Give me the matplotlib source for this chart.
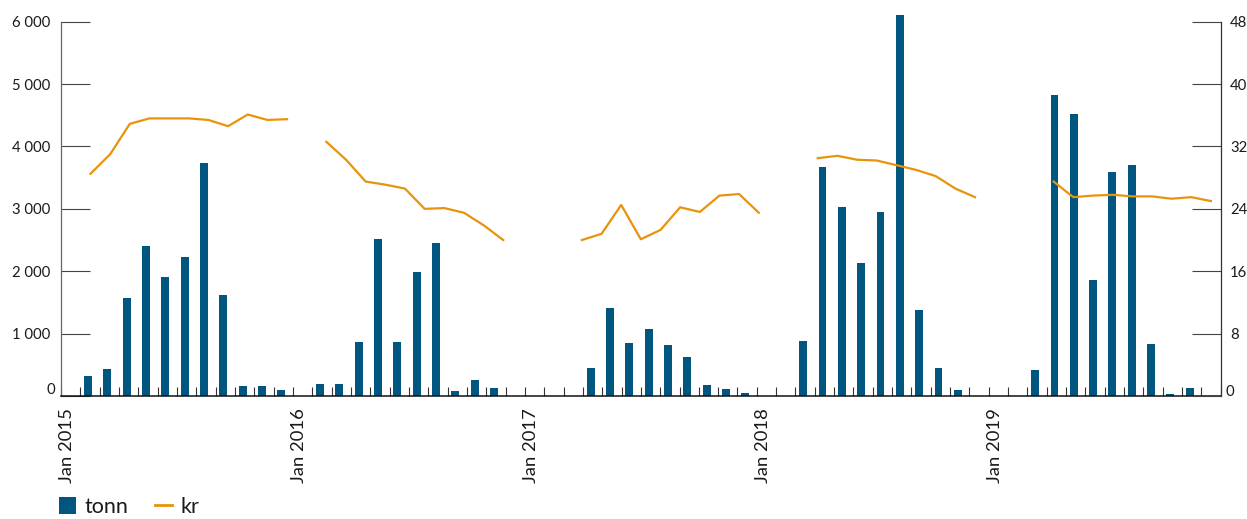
import numpy as np
import matplotlib
matplotlib.use('Agg')
import matplotlib.pyplot as plt
import matplotlib.transforms as mtransforms
from matplotlib.patches import Patch
from matplotlib.lines import Line2D

plt.rcParams['font.family'] = ['Lato', 'DejaVu Sans']

# ---------------- data ----------------
years = [2015, 2016, 2017, 2018, 2019]

# monthly volume (tonn), Jan..Dec of each year
tonn_2015 = [0, 320, 430, 1570, 2400, 1910, 2230, 3735, 1620, 160, 160, 100]
tonn_2016 = [0, 190, 190, 860, 2515, 860, 1985, 2450, 75, 250, 125, 0]
tonn_2017 = [0, 0, 0, 450, 1410, 850, 1075, 815, 625, 175, 110, 50]
tonn_2018 = [0, 0, 880, 3670, 3030, 2130, 2950, 6105, 1380, 450, 95, 0]
tonn_2019 = [0, 0, 415, 4825, 4520, 1860, 3590, 3700, 835, 30, 130, 0]

# price (kr) series: 59 points, None = no value
kr_2015 = [None, 28.5, 31.0, 34.9, 35.6, 35.6, 35.6, 35.4, 34.6, 36.1, 35.4, 35.5]
kr_2016 = [None, 32.6, 30.3, 27.5, 27.1, 26.6, 24.0, 24.1, 23.5, 21.9, 20.0, None]
kr_2017 = [None, None, 20.0, 20.8, 24.5, 20.1, 21.3, 24.2, 23.6, 25.7, 25.9, 23.5]
kr_2018 = [None, None, 30.5, 30.8, 30.3, 30.2, 29.6, 29.0, 28.2, 26.6, 25.5, None]
kr_2019 = [None, None, 27.5, 25.5, 25.7, 25.8, 25.6, 25.6, 25.3, 25.5, 25.0]

left_ticks = [0, 1000, 2000, 3000, 4000, 5000, 6000]
right_ticks = [0, 8, 16, 24, 32, 40, 48]
series_names = ['tonn', 'kr']

tonn = np.array(tonn_2015 + tonn_2016 + tonn_2017 + tonn_2018 + tonn_2019, dtype=float)
kr = np.array([np.nan if v is None else v
               for v in kr_2015 + kr_2016 + kr_2017 + kr_2018 + kr_2019], dtype=float)

BLUE = '#00567F'
ORANGE = '#E8930C'
TXT = '#1a1a1a'

W, H = 1247, 519
fig = plt.figure(figsize=(W / 100, H / 100), dpi=100)
rect = [61 / W, 1 - 396 / H, (1220.7 - 61) / W, (396 - 21.7) / H]

# ---------------- bars (monthly axis) ----------------
ax = fig.add_axes(rect)
n_months = len(tonn)
ax.bar(np.arange(n_months) + 0.4, tonn, width=0.41, color=BLUE,
       clip_on=False, zorder=2, linewidth=0)
ax.set_xlim(0, n_months)
ax.set_ylim(left_ticks[0], left_ticks[-1])

xt = np.arange(n_months + 1)
xlabels = ['' for _ in xt]
for i, y in enumerate(years):
    xlabels[i * 12] = f'Jan {y}'
ax.set_xticks(xt)
ax.set_xticklabels(xlabels)
ax.set_yticks(left_ticks)
ax.set_yticklabels([f'{v:,}'.replace(',', ' ') for v in left_ticks])

for s in ['top', 'right']:
    ax.spines[s].set_visible(False)
ax.spines['left'].set_color('#666666')
ax.spines['left'].set_linewidth(0.9)
ax.spines['bottom'].set_color('#111111')
ax.spines['bottom'].set_linewidth(1.1)

ax.tick_params(axis='x', direction='in', length=6.5, width=0.8, color='#333333',
               pad=8.8, labelsize=13.3, labelrotation=90, labelcolor=TXT)
ax.tick_params(axis='y', direction='in', length=21, width=0.8, color='#444444',
               pad=7.4, labelsize=10.7, labelcolor=TXT)

# x labels sit a little right of their tick
for lab in ax.get_xticklabels():
    lab.set_transform(lab.get_transform() +
                      mtransforms.ScaledTranslation(6.5 / 100, 0, fig.dpi_scale_trans))

# ---------------- line (own category axis) ----------------
ax2 = fig.add_axes(rect, facecolor='none')
n_kr = len(kr)
ax2.plot(np.arange(n_kr), kr, color=ORANGE, lw=1.6, clip_on=False, zorder=3)
ax2.set_xlim(-0.5, n_kr - 0.5)
ax2.set_ylim(right_ticks[0], right_ticks[-1])
ax2.set_xticks([])
for s in ['top', 'left', 'bottom']:
    ax2.spines[s].set_visible(False)
ax2.spines['right'].set_color('#333333')
ax2.spines['right'].set_linewidth(0.9)
ax2.yaxis.tick_right()
ax2.set_yticks(right_ticks)
ax2.set_yticklabels([str(v) for v in right_ticks])
ax2.tick_params(axis='y', direction='in', length=21, width=0.8, color='#444444',
                pad=6.7, labelsize=10.7, labelcolor=TXT)

# zero labels sit slightly above the baseline
for lab in ax.get_yticklabels():
    if lab.get_text() == '0':
        lab.set_transform(lab.get_transform() +
                          mtransforms.ScaledTranslation(4 / 100, 7.7 / 100, fig.dpi_scale_trans))
for lab in ax2.get_yticklabels():
    if lab.get_text() == '0':
        lab.set_transform(lab.get_transform() +
                          mtransforms.ScaledTranslation(-5 / 100, 5 / 100, fig.dpi_scale_trans))

# ---------------- legend ----------------
handles = [Patch(facecolor=BLUE, edgecolor='none', label=series_names[0]),
           Line2D([], [], color=ORANGE, lw=2, label=series_names[1])]
fig.legend(handles=handles, loc='center left', bbox_to_anchor=(59 / W, 1 - 507 / H),
           ncol=2, frameon=False, fontsize=15.5, handlelength=0.8, handleheight=0.8,
           handletextpad=0.4, columnspacing=1.2, borderpad=0, borderaxespad=0,
           labelcolor=TXT)

fig.savefig('out.png', dpi=100)
